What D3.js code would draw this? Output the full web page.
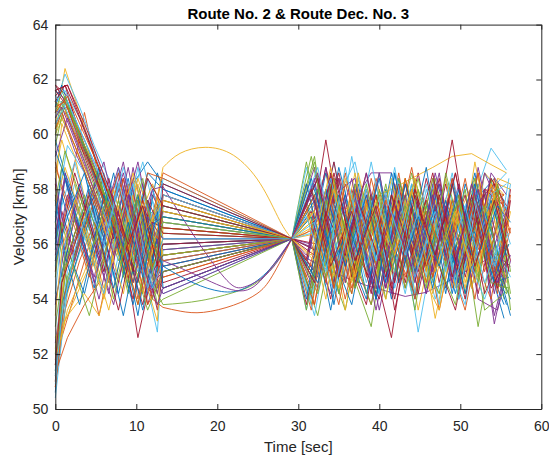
<!DOCTYPE html>
<html><head><meta charset="utf-8">
<script src="https://cdn.jsdelivr.net/npm/d3@7"></script>
<style>body{margin:0;background:#fff}text{font-family:"Liberation Sans",Arial,Helvetica,sans-serif}</style>
</head><body><svg id="chart" width="549" height="459"></svg>
<script>
const seriesColors = ["#0072BD","#D95319","#EDB120","#7E2F8E","#77AC30","#4DBEEE","#A2142F"];
const earlyTimeGrids = [
  [0, 1.2, 3.0, 4.8, 6.6, 8.4, 10.2, 12.0, 13.3],
  [0, 0.8, 2.4, 4.2, 6.0, 7.8, 9.6, 11.4, 13.3],
  [0, 1.5, 3.6, 5.4, 7.2, 9.0, 10.8, 12.6, 13.3]
];
const lateTimeGrids = [
  [31.6, 34.0, 36.6, 39.0, 41.5, 44.0, 46.6, 49.0, 51.4, 53.8, 55.7],
  [32.4, 35.0, 37.4, 40.0, 42.4, 44.8, 47.4, 49.8, 52.2, 54.6, 56.2],
  [31.0, 33.4, 35.8, 38.4, 40.8, 43.2, 45.8, 48.2, 50.6, 53.0, 55.4],
  [32.0, 34.4, 37.0, 39.6, 41.9, 44.4, 46.9, 49.4, 51.8, 54.2, 56.0]
];
const mergeTime = 29.2;
const mergeSpeed = 56.2;
const earlySpeeds = [
  [55.8,58.4,56.2,54.4,57.2,55.0,57.8,55.6,56.4],
  [60.6,61.2,60.1,58.9,57.6,56.4,58.0,55.4,57.2],
  [51.0,54.2,56.4,57.8,55.6,57.4,54.2,57.0,55.2],
  [57.2,55.4,57.8,56.0,54.2,57.6,55.2,58.0,56.8],
  [60.2,61.2,60.0,58.6,57.2,55.6,57.4,54.8,55.8],
  [51.8,55.0,56.8,55.2,57.6,55.4,57.8,54.6,54.2],
  [61.4,61.8,60.0,58.6,57.0,58.4,55.6,57.8,57.0],
  [50.6,53.8,55.6,57.2,56.0,58.2,55.4,57.6,55.0],
  [58.8,57.6,60.8,58.4,56.2,58.0,55.2,57.4,56.2],
  [60.4,62.4,60.8,59.2,57.8,56.4,58.2,55.6,56.8],
  [56.6,54.8,57.0,55.2,57.8,55.6,58.8,56.2,56.0],
  [51.4,54.8,56.6,58.0,56.4,54.2,56.8,55.0,57.4],
  [61.0,62.2,61.0,59.6,58.4,56.8,55.4,57.6,56.6],
  [55.0,57.2,55.6,58.0,56.2,54.6,57.4,53.8,55.6],
  [61.6,61.2,59.4,58.0,56.6,58.4,55.8,58.6,58.0],
  [51.2,53.6,55.4,56.8,55.0,57.2,54.0,56.6,54.8],
  [58.0,60.4,59.2,57.0,55.4,57.4,54.6,56.8,57.4],
  [60.8,61.0,59.8,58.4,56.8,55.2,57.2,54.6,54.2],
  [52.0,55.2,57.0,55.6,57.8,54.8,57.0,55.2,56.2],
  [54.2,56.4,58.2,56.0,58.6,55.8,57.2,55.0,55.6],
  [61.8,61.4,59.6,58.2,57.0,55.6,53.8,56.4,55.4],
  [59.8,58.6,57.2,55.2,57.6,56.0,53.4,56.8,57.8],
  [50.8,52.6,54.2,56.0,57.6,55.8,57.8,56.0,58.6],
  [60.0,61.0,59.8,58.2,56.6,54.8,56.4,54.2,55.0],
  [56.2,58.6,56.6,54.8,57.0,59.0,56.2,54.0,57.2],
  [61.2,60.6,59.6,58.2,57.0,55.4,57.6,55.8,56.6],
  [50.4,54.4,56.2,57.6,55.8,57.8,55.2,52.8,55.8],
  [57.8,55.8,58.0,56.2,58.4,56.0,52.6,55.0,54.4],
  [61.0,61.8,60.4,59.0,57.6,56.0,58.2,59.0,58.2],
  [55.4,57.6,55.8,53.4,56.0,58.2,55.6,57.8,56.6],
  [51.6,53.2,54.4,55.6,57.0,55.0,57.6,55.8,57.0],
  [60.4,60.8,59.4,58.2,56.8,58.6,56.4,54.2,55.2],
  [56.8,54.6,56.8,58.8,56.8,54.4,56.6,53.8,54.0],
  [60.6,61.4,60.2,59.0,57.6,56.2,58.8,56.4,57.6],
  [51.0,54.6,56.4,57.4,58.4,56.2,54.0,56.6,54.6],
  [54.0,55.8,54.2,56.4,58.6,55.8,53.6,56.2,55.2],
  [61.2,60.8,59.6,58.6,57.0,55.4,57.2,55.2,56.0],
  [58.6,59.8,58.2,56.2,54.4,56.6,58.4,55.4,56.4],
  [52.4,55.4,57.2,55.4,53.8,56.2,58.2,56.0,57.8],
  [60.0,61.4,60.0,58.8,57.4,55.8,53.8,56.8,57.2],
  [55.2,57.4,59.0,57.0,55.0,58.8,56.2,58.4,57.0],
  [61.6,61.0,59.2,57.8,56.2,58.0,56.0,53.6,55.0],
  [51.4,54.0,55.8,57.4,55.6,53.4,56.0,54.4,56.0],
  [59.0,58.0,56.6,54.8,57.0,58.6,55.8,53.8,54.8],
  [52.6,53.4,54.2,53.4,55.6,57.6,55.0,53.2,56.6],
  [53.8,56.0,58.2,56.4,54.6,57.0,59.0,56.4,55.8],
  [60.8,61.6,60.4,59.0,57.8,56.4,54.6,57.0,57.6],
  [57.0,59.6,58.6,56.6,54.8,57.2,59.0,56.8,58.4],
  [61.8,61.2,59.8,58.6,57.2,55.4,57.6,55.0,55.6],
  [56.0,57.8,56.0,58.2,56.4,54.2,56.4,58.6,58.0],
  [51.3,52.6,53.8,54.6,57.0,55.0,56.8,54.4,57.8],
  [57.4,58.8,57.2,55.4,53.6,56.0,58.4,56.8,58.8],
  [60.6,61.0,59.8,58.4,57.0,58.8,56.6,54.4,55.0],
  [51.6,55.6,57.4,58.6,56.4,54.6,56.8,54.2,53.8],
  [61.2,61.6,60.6,59.4,58.0,56.6,55.0,57.2,56.2],
  [58.2,56.4,58.6,56.8,55.0,57.2,55.0,57.6,56.4],
  [59.4,58.2,56.6,58.8,56.8,55.0,57.4,55.6,55.2],
  [50.8,54.2,56.0,57.6,56.0,58.4,56.0,54.0,53.7],
  [60.2,60.6,59.6,58.4,57.0,55.6,57.8,55.8,57.4],
  [55.6,57.8,56.0,54.0,56.4,58.8,56.2,54.2,55.4],
  [59.6,61.2,60.0,58.8,57.4,55.8,57.8,56.0,57.0],
  [51.2,55.6,57.2,55.8,54.2,56.8,58.2,55.8,56.8],
  [61.6,61.8,60.2,58.8,57.2,55.8,57.6,55.6,56.0],
  [57.6,55.6,53.8,56.0,58.0,55.8,57.8,55.4,57.4],
  [60.2,60.8,59.6,58.2,56.8,58.2,56.0,58.6,58.4],
  [51.8,53.6,55.0,56.6,58.0,56.0,54.2,56.6,55.6],
  [56.4,58.4,56.4,54.6,56.8,58.6,56.4,58.0,58.1],
  [54.8,56.8,55.0,53.4,55.6,57.6,55.4,53.6,55.0],
  [60.4,61.2,59.8,58.6,57.2,55.4,57.8,56.2,57.8],
  [61.2,61.8,60.6,59.2,57.8,56.4,54.6,56.8,56.6],
  [56.8,58.8,57.2,55.4,57.8,55.8,53.8,56.6,57.0],
  [60.8,61.4,60.0,58.8,57.4,55.8,57.6,56.2,57.6],
  [52.2,55.0,56.6,58.0,56.0,54.2,56.8,58.2,57.2],
  [58.4,57.0,55.4,57.6,59.0,56.6,54.6,57.0,56.2],
  [53.0,56.2,57.8,56.2,54.0,56.6,58.4,55.4,55.6],
  [61.4,61.0,59.8,58.4,56.6,58.8,56.8,54.4,55.4],
  [51.6,54.6,56.0,57.8,55.6,53.6,56.2,58.4,57.4],
  [55.4,57.0,58.6,56.4,54.4,56.8,54.8,57.2,54.4],
  [61.0,61.2,59.8,58.4,57.2,55.8,53.8,56.0,55.4],
  [53.4,55.8,57.6,55.8,54.0,56.4,58.6,56.6,57.6],
  [59.2,60.6,59.0,57.4,55.6,57.8,55.2,53.8,54.4],
  [57.6,59.4,57.8,56.0,58.0,55.6,57.6,55.0,56.8],
  [50.9,53.4,55.8,57.4,56.0,58.2,56.6,54.4,56.2],
  [61.6,61.8,60.4,59.0,57.6,56.0,57.4,55.2,58.2]
];
const lateSpeeds = [
  [54.2,58.4,54.8,57.8,54.0,58.2,55.2,57.6,54.4,57.8,55.8],
  [58.4,54.2,57.8,55.0,58.6,54.6,57.4,54.8,58.2,54.6,56.6],
  [56.8,58.6,54.6,57.4,55.2,57.8,54.6,58.4,55.0,57.4,57.8],
  [58.8,55.0,57.6,54.0,58.2,55.4,57.8,54.6,58.0,53.1,55.6],
  [53.8,57.6,55.0,53.0,57.8,54.4,58.0,55.2,57.6,54.8,54.2],
  [57.6,54.2,58.4,55.0,57.4,52.8,57.0,54.6,58.0,55.4,58.2],
  [55.4,59.8,55.6,58.0,54.4,57.6,55.0,58.2,54.8,57.8,54.6],
  [58.2,54.6,57.4,54.0,58.6,55.2,57.0,54.2,57.6,58.4,57.0],
  [54.4,57.8,55.6,53.8,57.8,55.0,58.4,54.4,57.4,55.2,55.4],
  [56.4,54.4,58.4,55.6,57.6,53.6,57.2,55.0,58.6,54.8,57.2],
  [55.5,55.1,54.8,54.5,54.3,54.1,54.25,54.6,55.0,55.4,55.8],
  [59.0,55.4,57.8,54.8,57.6,53.6,58.4,55.2,57.4,54.6,54.4],
  [57.0,54.6,59.2,55.4,57.4,54.2,58.2,54.8,57.4,59.5,58.7],
  [54.4,58.4,54.8,57.6,55.4,58.6,54.6,57.8,54.2,57.4,55.4],
  [55.2,58.6,56.0,54.0,58.0,55.6,57.6,54.2,58.2,55.8,53.3],
  [53.8,57.4,55.2,58.4,55.8,54.2,58.0,55.4,57.6,54.8,56.6],
  [56.6,57.0,57.4,57.7,58.0,58.4,58.8,59.2,59.3,58.9,58.6],
  [58.4,54.8,57.2,53.6,57.0,55.4,58.6,54.4,58.8,55.6,55.2],
  [59.0,55.6,53.6,57.6,54.0,58.4,55.2,57.4,54.2,58.0,54.0],
  [55.8,59.0,55.0,58.2,54.4,57.0,54.0,56.6,58.2,54.8,57.6],
  [57.2,54.0,58.0,55.6,52.6,57.4,55.0,58.4,55.4,58.0,56.6],
  [54.8,58.8,56.0,54.2,58.4,55.4,57.8,54.0,57.4,55.2,54.0],
  [58.2,55.2,58.6,54.8,57.0,54.4,57.6,55.8,53.6,57.2,57.8],
  [54.6,57.8,54.4,58.2,55.0,57.6,53.3,56.8,58.4,55.6,57.4],
  [56.0,54.2,57.4,58.6,58.6,55.6,57.6,54.8,58.2,55.8,54.8],
  [53.4,57.2,54.6,58.0,55.8,58.4,55.2,57.6,53.0,57.0,54.2],
  [58.8,55.8,57.6,54.6,57.0,54.2,58.0,55.6,53.8,58.6,57.6],
  [55.6,58.4,54.6,57.8,53.6,57.0,55.4,58.6,55.0,57.8,55.0],
  [57.0,53.6,57.6,54.8,58.6,55.0,57.8,54.2,57.4,55.6,53.8],
  [54.4,58.4,55.2,58.6,54.6,57.6,53.6,57.0,55.8,58.2,56.4],
  [56.4,57.2,53.6,57.6,55.4,58.4,55.0,57.2,54.4,58.6,57.8],
  [58.4,54.4,57.2,53.6,57.0,54.8,58.6,55.6,57.8,53.4,55.6],
  [59.2,56.0,54.2,57.8,55.4,58.6,54.8,57.4,55.2,58.4,54.2],
  [54.4,57.6,55.4,58.6,54.8,57.8,53.8,58.0,55.2,57.4,56.0],
  [55.4,58.8,55.8,53.8,57.8,54.6,58.4,55.6,57.8,54.2,55.8],
  [57.8,53.8,58.2,55.6,57.4,54.0,57.2,55.8,58.6,54.6,54.8],
  [53.6,57.8,54.4,57.2,55.6,58.8,54.8,58.4,55.8,54.0,57.0],
  [57.4,55.0,58.0,54.8,58.2,55.8,54.2,57.6,55.2,58.2,58.0],
  [55.2,58.8,54.6,57.8,54.4,57.6,54.2,57.2,55.4,58.6,57.0],
  [59.2,54.4,58.2,54.8,57.6,55.2,57.8,54.8,58.4,55.6,56.0],
  [54.0,57.6,55.4,59.0,55.4,58.2,54.6,57.4,55.6,58.0,58.6],
  [56.0,58.6,55.6,54.0,57.6,55.0,58.4,54.6,57.4,55.0,58.0],
  [58.2,55.2,57.8,54.2,57.4,55.4,58.8,54.4,57.2,55.6,53.8],
  [53.8,58.2,54.4,57.2,54.8,58.0,55.2,57.8,54.0,58.4,55.6],
  [56.8,54.6,57.8,55.2,58.4,54.8,56.6,58.2,54.4,57.6,54.6],
  [55.8,58.4,55.0,58.6,54.8,57.6,55.2,58.2,54.0,53.6,55.4],
  [57.6,54.8,57.0,55.0,58.2,54.4,57.4,55.2,58.0,53.6,54.2],
  [53.4,57.4,59.0,55.4,57.6,54.2,57.8,54.8,57.2,55.6,56.4],
  [55.0,58.6,54.8,57.6,54.4,58.0,55.8,59.8,55.4,58.4,57.4],
  [58.0,55.6,58.2,54.2,57.8,55.4,58.2,54.6,57.0,55.2,53.4],
  [54.8,57.2,54.0,57.6,55.2,58.4,54.6,57.6,55.6,58.0,57.8],
  [57.2,55.0,58.6,54.6,57.8,55.2,57.6,54.4,59.0,55.4,55.6],
  [54.6,58.4,55.6,57.4,54.2,57.8,55.0,58.2,54.8,58.6,57.8],
  [58.0,54.2,57.0,55.0,58.4,55.8,54.2,57.8,54.6,58.2,53.6],
  [53.6,57.4,54.8,58.0,55.4,57.6,54.8,58.4,55.8,54.0,56.2],
  [55.8,59.0,55.0,57.8,54.6,58.0,55.6,53.6,57.4,58.2,55.0],
  [58.4,55.8,53.8,57.4,55.0,57.8,54.4,58.2,55.6,57.6,55.6],
  [56.6,53.8,57.6,55.4,58.0,54.6,57.2,55.0,58.6,54.2,57.8],
  [57.2,54.0,58.4,56.0,54.0,57.6,55.2,58.4,54.6,57.4,55.8],
  [55.0,57.8,58.4,54.4,57.6,54.6,58.0,55.4,57.8,54.2,57.2],
  [54.2,58.2,55.8,53.8,57.0,55.0,58.4,55.6,57.6,54.6,54.4],
  [58.8,55.4,57.6,54.2,58.0,55.2,57.4,54.0,57.8,55.8,54.8],
  [53.8,57.2,55.6,58.6,54.8,58.2,55.2,57.0,54.0,58.0,57.4],
  [57.6,55.4,57.0,54.0,58.6,55.0,57.4,55.2,58.2,54.8,56.0],
  [55.2,57.6,54.2,58.4,55.4,57.2,54.8,57.6,55.4,58.2,57.2],
  [57.0,54.4,58.6,55.4,57.8,55.2,53.6,57.2,55.0,58.4,58.2],
  [55.6,58.0,55.2,58.6,55.6,57.8,54.2,57.4,55.4,58.0,55.2],
  [54.8,58.4,54.4,57.0,55.0,58.4,55.6,53.8,57.8,55.2,54.2],
  [56.4,58.4,55.2,57.6,54.6,57.6,55.6,58.6,55.0,57.8,58.2],
  [58.4,54.8,57.6,55.4,58.2,54.2,57.8,55.0,57.0,54.4,57.6],
  [54.0,58.0,55.2,57.8,54.6,58.2,55.4,57.6,54.2,57.2,55.0],
  [57.8,54.4,58.0,55.2,57.4,54.0,58.2,55.6,57.6,54.8,57.0],
  [55.6,58.8,54.6,57.4,55.8,58.0,54.2,57.4,55.2,58.2,56.0],
  [58.6,55.0,57.6,54.4,57.2,55.6,58.2,55.2,58.0,54.6,55.6],
  [53.6,57.6,55.4,58.2,55.0,57.4,54.4,58.6,55.8,57.4,54.8],
  [56.8,54.2,57.8,55.4,58.8,54.8,57.2,54.6,57.6,55.2,58.4],
  [58.0,55.2,57.2,54.2,57.8,55.6,58.6,54.8,57.8,54.4,55.4],
  [54.6,57.8,55.6,58.4,54.6,57.0,55.2,58.0,55.6,57.4,56.8],
  [57.4,54.6,58.2,55.8,57.6,54.8,57.2,55.4,58.4,55.0,57.6],
  [55.4,58.0,54.8,57.6,55.6,58.4,55.0,57.2,54.6,57.8,56.8],
  [57.8,55.6,58.4,54.6,57.2,55.2,57.8,54.6,58.2,55.6,57.2],
  [54.2,57.4,55.0,57.8,54.8,58.0,55.8,57.6,54.8,58.0,55.0],
  [57.0,55.0,58.8,55.2,57.8,55.6,58.2,55.0,57.4,54.6,56.6],
  [54.6,58.6,55.4,57.4,54.0,57.8,55.6,58.6,55.2,57.6,55.6]
];
// lines whose stretch between t=13.3 and the merge point is a smooth curve
const gapCurveLines = [51, 57, 56, 53, 59, 66];
const gapCurvePoints = [
  [[15.4,59.31],[18.5,59.53],[22.0,59.24],[25.3,58.21],[27.7,56.87]],
  [[15.5,53.56],[18.3,53.52],[22.0,53.78],[24.9,54.2],[26.8,54.85]],
  [[17.0,54.6],[20.5,54.28],[23.4,54.4],[26.5,55.1]],
  [[18.0,53.95],[22.4,54.28],[25.3,54.7],[27.7,55.5]],
  [[18.0,54.8],[22.8,54.3],[26.0,54.9]],
  [[17.5,56.14],[21.2,54.68],[23.4,54.45],[26.4,55.0]]
];
const xTicks = [0,10,20,30,40,50,60];
const yTicks = [50,52,54,56,58,60,62,64];

const svg = d3.select("#chart");
const x = d3.scaleLinear().domain([0,60]).range([55.3,541.3]);
const y = d3.scaleLinear().domain([50,64]).range([409,24.6]);
const lin = d3.line().x(d=>x(d[0])).y(d=>y(d[1]));
const smooth = d3.line().x(d=>x(d[0])).y(d=>y(d[1])).curve(d3.curveNatural);

const lines = svg.append("g").attr("fill","none").attr("stroke-width",0.9);
earlySpeeds.forEach((row,i)=>{
  const eg = earlyTimeGrids[i % 3];
  const lg = lateTimeGrids[i % 4];
  const early = row.map((v,k)=>[eg[k], v]);
  const late = lateSpeeds[i].map((v,k)=>[lg[k], v]);
  const merge = [mergeTime, mergeSpeed];
  const ci = gapCurveLines.indexOf(i);
  const grp = lines.append("g").attr("stroke", seriesColors[i % 7]);
  if (ci < 0) {
    grp.append("path").attr("d", lin([...early, merge, ...late]));
  } else {
    grp.append("path").attr("d", lin(early));
    grp.append("path").attr("d", smooth([early[early.length-1], ...gapCurvePoints[ci], merge]));
    grp.append("path").attr("d", lin([merge, ...late]));
  }
});

const axisColor = "#262626";
function styleAxis(sel, showText){
  sel.select(".domain").attr("stroke",axisColor).attr("stroke-width",1);
  sel.selectAll(".tick line").attr("stroke",axisColor).attr("stroke-width",1);
  sel.selectAll(".tick text").attr("fill",axisColor).style("font-size","14px")
     .style("font-family","'Liberation Sans', Arial, Helvetica, sans-serif");
  if(!showText) sel.selectAll(".tick text").remove();
}
svg.append("g").attr("transform",`translate(0,${y(50)})`)
  .call(d3.axisBottom(x).tickValues(xTicks).tickSizeInner(-5).tickSizeOuter(0).tickPadding(12))
  .call(s=>styleAxis(s,true));
svg.append("g").attr("transform",`translate(0,${y(64)})`)
  .call(d3.axisTop(x).tickValues(xTicks).tickSizeInner(-5).tickSizeOuter(0))
  .call(s=>styleAxis(s,false));
svg.append("g").attr("transform",`translate(${x(0)},0)`)
  .call(d3.axisLeft(y).tickValues(yTicks).tickSizeInner(-5).tickSizeOuter(0).tickPadding(7))
  .call(s=>styleAxis(s,true));
svg.append("g").attr("transform",`translate(${x(60)},0)`)
  .call(d3.axisRight(y).tickValues(yTicks).tickSizeInner(-5).tickSizeOuter(0))
  .call(s=>styleAxis(s,false));

svg.append("text").attr("x",(x(0)+x(60))/2).attr("y",18.5).attr("text-anchor","middle")
  .attr("font-weight","bold").attr("font-size","15px").attr("fill","#000")
  .text("Route No. 2 & Route Dec. No. 3");
svg.append("text").attr("x",(x(0)+x(60))/2).attr("y",452).attr("text-anchor","middle")
  .attr("font-size","15px").attr("fill",axisColor).text("Time [sec]");
svg.append("text").attr("transform",`translate(24,${(y(50)+y(64))/2}) rotate(-90)`)
  .attr("text-anchor","middle").attr("font-size","15px").attr("fill",axisColor).text("Velocity [km/h]");
</script></body></html>
